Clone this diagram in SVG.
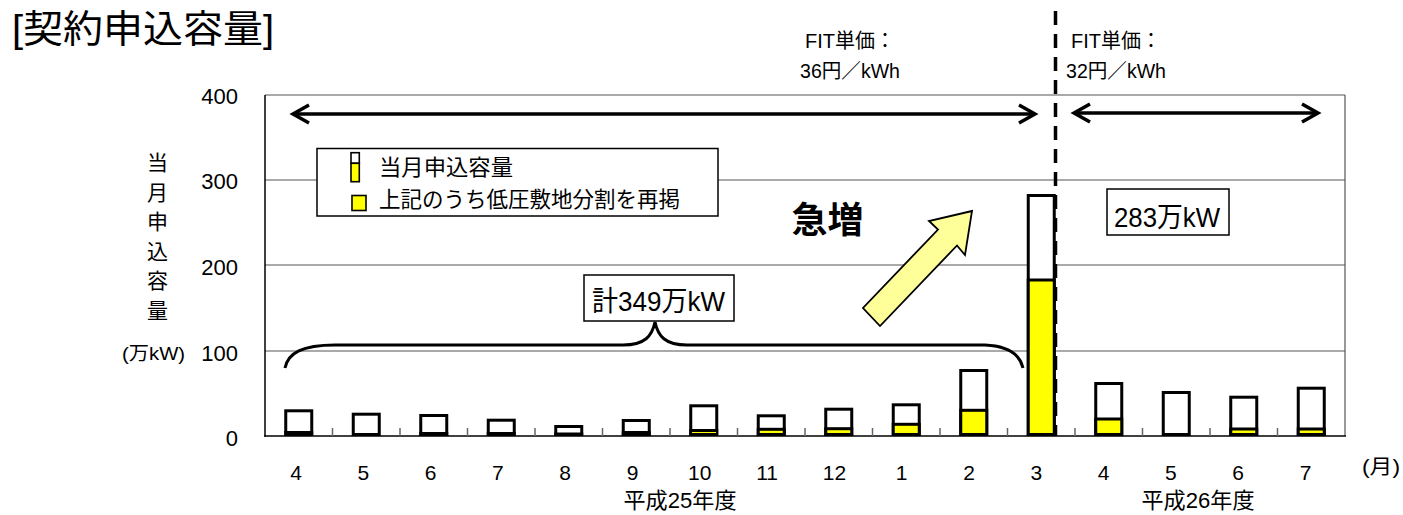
<svg xmlns="http://www.w3.org/2000/svg" width="1403" height="515" viewBox="0 0 1403 515">
<style>
text{font-family:"Liberation Sans","Noto Sans CJK JP",sans-serif;fill:#000}
.grid{stroke:#555;stroke-width:1.2;fill:none}
.tick{stroke:#666;stroke-width:1.5}
.bar{fill:#fff;stroke:#000;stroke-width:3}
.yel{fill:#ff0;stroke:#000;stroke-width:3}
.arr{stroke:#000;stroke-width:3.5;fill:none}
.box{fill:#fff;stroke:#000;stroke-width:1.5}
.yt{font-size:22px;text-anchor:end}
.xt{font-size:21px;text-anchor:middle}
.yl{font-size:21px;text-anchor:middle}
</style>
<rect width="1403" height="515" fill="#fff"/>
<text id="title" x="12" y="42" font-size="38" textLength="262" lengthAdjust="spacingAndGlyphs">[契約申込容量]</text>

<g id="axes">
<line class="grid" x1="265" y1="351" x2="1345" y2="351"/>
<line class="grid" x1="265" y1="265" x2="1345" y2="265"/>
<line class="grid" x1="265" y1="180" x2="1345" y2="180"/>
<line class="grid" x1="265" y1="95" x2="1345" y2="95"/>
<line class="grid" x1="1345" y1="95" x2="1345" y2="436"/>
<line stroke="#000" stroke-width="1.5" x1="265" y1="95" x2="265" y2="436.5"/>
<line stroke="#000" stroke-width="1.5" x1="264" y1="436" x2="1346" y2="436"/>
<g class="tick">
<line x1="332.5" y1="428" x2="332.5" y2="436"/><line x1="400" y1="428" x2="400" y2="436"/>
<line x1="467.5" y1="428" x2="467.5" y2="436"/><line x1="535" y1="428" x2="535" y2="436"/>
<line x1="602.5" y1="428" x2="602.5" y2="436"/><line x1="670" y1="428" x2="670" y2="436"/>
<line x1="737.5" y1="428" x2="737.5" y2="436"/><line x1="805" y1="428" x2="805" y2="436"/>
<line x1="872.5" y1="428" x2="872.5" y2="436"/><line x1="940" y1="428" x2="940" y2="436"/>
<line x1="1007.5" y1="428" x2="1007.5" y2="436"/><line x1="1075" y1="428" x2="1075" y2="436"/>
<line x1="1142.5" y1="428" x2="1142.5" y2="436"/><line x1="1210" y1="428" x2="1210" y2="436"/>
<line x1="1277.5" y1="428" x2="1277.5" y2="436"/>
</g>
<text class="yt" x="238" y="104">400</text>
<text class="yt" x="238" y="189">300</text>
<text class="yt" x="238" y="275">200</text>
<text class="yt" x="238" y="361">100</text>
<text class="yt" x="238" y="446">0</text>
<text class="yl" x="157.5" y="170">当</text>
<text class="yl" x="157.5" y="199.5">月</text>
<text class="yl" x="157.5" y="229">申</text>
<text class="yl" x="157.5" y="258.5">込</text>
<text class="yl" x="157.5" y="288">容</text>
<text class="yl" x="157.5" y="317.5">量</text>
<text x="122" y="360" font-size="19" textLength="63" lengthAdjust="spacingAndGlyphs">(万kW)</text>
<text class="xt" x="296" y="480">4</text>
<text class="xt" x="363.3" y="480">5</text>
<text class="xt" x="430.6" y="480">6</text>
<text class="xt" x="497.9" y="480">7</text>
<text class="xt" x="565.2" y="480">8</text>
<text class="xt" x="632.5" y="480">9</text>
<text class="xt" x="699.8" y="480">10</text>
<text class="xt" x="767.1" y="480">11</text>
<text class="xt" x="834.4" y="480">12</text>
<text class="xt" x="901.7" y="480">1</text>
<text class="xt" x="969" y="480">2</text>
<text class="xt" x="1036.3" y="480">3</text>
<text class="xt" x="1103.6" y="480">4</text>
<text class="xt" x="1170.9" y="480">5</text>
<text class="xt" x="1238.2" y="480">6</text>
<text class="xt" x="1305.5" y="480">7</text>
<text x="1362" y="474" font-size="20" textLength="38" lengthAdjust="spacingAndGlyphs">(月)</text>
<text x="680" y="508" font-size="22" text-anchor="middle" textLength="113" lengthAdjust="spacingAndGlyphs">平成25年度</text>
<text x="1198" y="508" font-size="22" text-anchor="middle" textLength="113" lengthAdjust="spacingAndGlyphs">平成26年度</text>
</g>

<g id="bars">
<rect class="bar" x="285.75" y="410.8" width="26" height="23.7"/><rect class="yel" x="285.75" y="432.5" width="26" height="2"/>
<rect class="bar" x="353.25" y="414.2" width="26" height="20.3"/>
<rect class="bar" x="420.75" y="415.5" width="26" height="19"/><rect class="yel" x="420.75" y="433.5" width="26" height="1"/>
<rect class="bar" x="488.25" y="420.2" width="26" height="14.3"/><rect class="yel" x="488.25" y="433.5" width="26" height="1"/>
<rect class="bar" x="555.75" y="426.5" width="26" height="8"/><rect class="yel" x="555.75" y="434" width="26" height="0.5"/>
<rect class="bar" x="623.25" y="420.5" width="26" height="14"/><rect class="yel" x="623.25" y="432.5" width="26" height="2"/>
<rect class="bar" x="690.75" y="405.8" width="26" height="28.7"/><rect class="yel" x="690.75" y="430.5" width="26" height="4"/>
<rect class="bar" x="758.25" y="415.8" width="26" height="18.7"/><rect class="yel" x="758.25" y="429.3" width="26" height="5.2"/>
<rect class="bar" x="825.75" y="409.2" width="26" height="25.3"/><rect class="yel" x="825.75" y="428.7" width="26" height="5.8"/>
<rect class="bar" x="893.25" y="404.8" width="26" height="29.7"/><rect class="yel" x="893.25" y="424.3" width="26" height="10.2"/>
<rect class="bar" x="960.75" y="370.5" width="26" height="64"/><rect class="yel" x="960.75" y="410.3" width="26" height="24.2"/>
<rect class="bar" x="1028.25" y="195.5" width="26" height="239"/><rect class="yel" x="1028.25" y="280" width="26" height="154.5"/>
<rect class="bar" x="1095.75" y="383.5" width="26" height="51"/><rect class="yel" x="1095.75" y="419" width="26" height="15.5"/>
<rect class="bar" x="1163.25" y="392.5" width="26" height="42"/>
<rect class="bar" x="1230.75" y="397.2" width="26" height="37.3"/><rect class="yel" x="1230.75" y="429" width="26" height="5.5"/>
<rect class="bar" x="1298.25" y="388.2" width="26" height="46.3"/><rect class="yel" x="1298.25" y="429" width="26" height="5.5"/>
</g>

<g id="legend">
<rect class="box" x="317" y="148.5" width="401" height="67.5" stroke-width="1.2"/>
<rect x="351" y="152.7" width="8.3" height="10.6" fill="#fff" stroke="#000" stroke-width="1.6"/>
<rect x="351" y="163.3" width="8.3" height="18.4" fill="#ff0" stroke="#000" stroke-width="1.6"/>
<text x="379" y="175" font-size="21.5" textLength="134" lengthAdjust="spacingAndGlyphs">当月申込容量</text>
<rect x="352" y="195.5" width="14" height="15" fill="#ff0" stroke="#000" stroke-width="1.6"/>
<text x="379" y="206.5" font-size="21.5" textLength="301" lengthAdjust="spacingAndGlyphs">上記のうち低圧敷地分割を再掲</text>
</g>

<g id="fit-labels">
<text x="850" y="48" font-size="20" text-anchor="middle">FIT単価：</text>
<text x="850" y="78" font-size="20" text-anchor="middle" textLength="100" lengthAdjust="spacingAndGlyphs">36円／kWh</text>
<text x="1116" y="48" font-size="20" text-anchor="middle">FIT単価：</text>
<text x="1116" y="78" font-size="20" text-anchor="middle" textLength="100" lengthAdjust="spacingAndGlyphs">32円／kWh</text>
</g>

<g id="connectors">
<line x1="1055.5" y1="11" x2="1055.5" y2="436" stroke="#000" stroke-width="3.5" stroke-dasharray="14 9"/>
<line class="arr" x1="294" y1="114" x2="1034" y2="114"/>
<polyline class="arr" points="309,105 293,114 309,123"/>
<polyline class="arr" points="1019,105 1035,114 1019,123"/>
<line class="arr" x1="1075" y1="113" x2="1317" y2="113"/>
<polyline class="arr" points="1090,104 1074,113 1090,122"/>
<polyline class="arr" points="1302,104 1318,113 1302,122"/>
<path d="M285,368 C288,353 302,345 335,345 L623,345 C645,345 652,336 655,322 C658,336 665,345 687,345 L985,345 C1008,346 1020,355 1023,368" stroke="#000" stroke-width="3" fill="none"/>
<polygon points="972,211 929,221 938,229.5 863,308 880,326 957,245.5 965,255" fill="#ffff99" stroke="#000" stroke-width="1.8" stroke-linejoin="miter"/>
</g>

<g id="callouts">
<rect class="box" x="584" y="275" width="150" height="46"/>
<text x="658.5" y="311" font-size="28" text-anchor="middle" textLength="133" lengthAdjust="spacingAndGlyphs">計349万kW</text>
<rect class="box" x="1107" y="189" width="122" height="46"/>
<text x="1167" y="226.5" font-size="28" text-anchor="middle" textLength="106" lengthAdjust="spacingAndGlyphs">283万kW</text>
<text x="827.5" y="233" font-size="36" font-weight="bold" text-anchor="middle" textLength="72" lengthAdjust="spacingAndGlyphs">急増</text>
</g>
</svg>
